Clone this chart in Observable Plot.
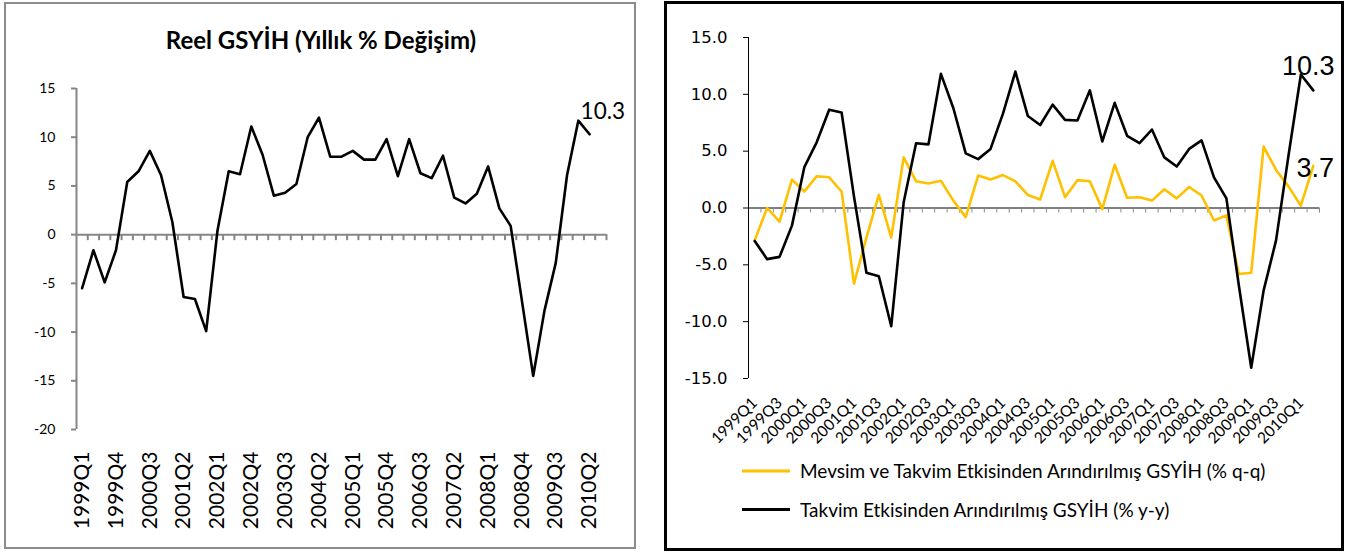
<!DOCTYPE html>
<html>
<head>
<meta charset="utf-8">
<script src="https://cdn.jsdelivr.net/npm/d3@7"></script>
<script src="https://cdn.jsdelivr.net/npm/@observablehq/plot@0.6"></script>
<style>
  html, body { margin: 0; padding: 0; background: #fff; }
  body { width: 1354px; height: 554px; position: relative; overflow: hidden; font-family: Lato, sans-serif; }
  .abs { position: absolute; }
  #p1 { left: 0; top: 0; }
  #p2 { left: 660px; top: 0; }
  .box1 { left: 4px; top: 2px; width: 628px; height: 543px; border: 2px solid #8c8c8c; pointer-events: none; z-index: 5; }
  .box2 { left: 664px; top: 1px; width: 674px; height: 544px; border: 3px solid #000; pointer-events: none; z-index: 5; }
  #overlay { left: 0; top: 0; z-index: 6; pointer-events: none; }
</style>
</head>
<body>
<div id="p1" class="abs"></div>
<div id="p2" class="abs"></div>
<div class="abs box1"></div>
<div class="abs box2"></div>
<svg id="overlay" class="abs" width="1354" height="554"></svg>
<script>
// ---------------- data ----------------
const quarters = [
  "1999Q1","1999Q2","1999Q3","1999Q4",
  "2000Q1","2000Q2","2000Q3","2000Q4",
  "2001Q1","2001Q2","2001Q3","2001Q4",
  "2002Q1","2002Q2","2002Q3","2002Q4",
  "2003Q1","2003Q2","2003Q3","2003Q4",
  "2004Q1","2004Q2","2004Q3","2004Q4",
  "2005Q1","2005Q2","2005Q3","2005Q4",
  "2006Q1","2006Q2","2006Q3","2006Q4",
  "2007Q1","2007Q2","2007Q3","2007Q4",
  "2008Q1","2008Q2","2008Q3","2008Q4",
  "2009Q1","2009Q2","2009Q3","2009Q4",
  "2010Q1","2010Q2"
];
// Left panel: Reel GSYİH (Yıllık % Değişim)
const reelGsyih = [
  -5.5, -1.6, -4.9, -1.6,
   5.4,  6.5,  8.6,  6.1,
   1.3, -6.4, -6.6, -9.9,
   0.4,  6.5,  6.2, 11.1,
   8.2,  4.0,  4.3,  5.2,
  10.0, 12.0,  8.0,  8.0,
   8.6,  7.7,  7.7,  9.8,
   6.0,  9.8,  6.3,  5.8,
   8.1,  3.8,  3.2,  4.2,
   7.0,  2.7,  0.9, -6.8,
 -14.5, -7.8, -2.9,  6.1,
  11.7, 10.3
];
// Right panel: Mevsim ve Takvim Etkisinden Arındırılmış GSYİH (% q-q)
const qq = [
  -2.85,  0.0, -1.2,  2.5,
   1.45,  2.8,  2.7,  1.45,
  -6.65, -2.6,  1.15, -2.6,
   4.45,  2.35, 2.15,  2.4,
   0.65, -0.8,  2.85,  2.5,
   2.9,   2.35, 1.15,  0.75,
   4.15,  0.95, 2.45,  2.35,
  -0.1,   3.8,  0.9,   0.95,
   0.65,  1.65, 0.85,  1.85,
   1.1,  -1.1, -0.65, -5.8,
  -5.7,   5.4,  3.35,  1.9,
   0.2,   3.7
];
// Right panel: Takvim Etkisinden Arındırılmış GSYİH (% y-y)
const yy = [
  -2.9,  -4.5,  -4.3,  -1.55,
   3.6,   5.8,   8.65,  8.4,
   1.0,  -5.7,  -6.0, -10.4,
   0.5,   5.7,   5.6,  11.8,
   8.8,   4.8,   4.3,   5.2,
   8.3,  12.0,   8.1,   7.3,
   9.1,   7.75,  7.7,  10.35,
   5.85,  9.25,  6.35,  5.7,
   6.9,   4.45,  3.65,  5.2,
   5.95,  2.7,   0.85, -6.8,
 -14.05, -7.25, -2.85,  4.6,
  11.75, 10.35
];
const leftTickLabels = ["1999Q1","1999Q4","2000Q3","2001Q2","2002Q1","2002Q4","2003Q3","2004Q2",
  "2005Q1","2005Q4","2006Q3","2007Q2","2008Q1","2008Q4","2009Q3","2010Q2"];
const rightTickLabels = ["1999Q1","1999Q3","2000Q1","2000Q3","2001Q1","2001Q3","2002Q1","2002Q3",
  "2003Q1","2003Q3","2004Q1","2004Q3","2005Q1","2005Q3","2006Q1","2006Q3","2007Q1","2007Q3",
  "2008Q1","2008Q3","2009Q1","2009Q3","2010Q1"];
const leftYTicks = [-20, -15, -10, -5, 0, 5, 10, 15];
const rightYTicks = [-15, -10, -5, 0, 5, 10, 15];
const leftTitle = "Reel GSYİH (Yıllık % Değişim)";
const legendLabels = ["Mevsim ve Takvim Etkisinden Arındırılmış GSYİH (% q-q)", "Takvim Etkisinden Arındırılmış GSYİH (% y-y)"];
const seriesColors = ["#FFC000", "#000000"];

// ---------------- helpers ----------------
const leftSlots = quarters.length + 1; // an empty slot follows the last quarter on the left axis
const rightSlots = quarters.length;
const leftData = reelGsyih.map((v, i) => ({i, q: quarters[i], v}));
const qqData = qq.map((v, i) => ({i, q: quarters[i], v}));
const yyData = yy.map((v, i) => ({i, q: quarters[i], v}));
const leftBounds = d3.range(leftSlots).map(i => ({x: i + 0.5, y: 0}));
const rightBounds = d3.range(rightSlots).map(i => ({x: i + 0.5, y: 0}));
const leftTickIdx = leftTickLabels.map(q => quarters.indexOf(q));
const rightTickIdx = rightTickLabels.map(q => quarters.indexOf(q));
const fmtInt = d => String(d);
const fmt1 = d => d.toFixed(1);

// ---------------- left chart ----------------
const left = Plot.plot({
  width: 640, height: 554,
  marginLeft: 76, marginRight: 34, marginTop: 88, marginBottom: 125,
  style: {background: "transparent", fontFamily: "Lato", color: "#000", overflow: "visible"},
  x: {type: "linear", domain: [-0.5, leftSlots - 0.5]},
  y: {domain: [-20, 15]},
  marks: [
    Plot.ruleX([-0.5], {stroke: "#868686", strokeWidth: 2}),
    Plot.axisY({ticks: leftYTicks, tickFormat: fmtInt, tickSize: 5, tickPadding: 16, stroke: "#868686", strokeWidth: 2, fill: "#000", fontSize: 14, label: null}),
    Plot.ruleY([0], {stroke: "#868686", strokeWidth: 2}),
    Plot.ruleX(leftBounds, {x: "x", y1: "y", y2: "y", insetBottom: -6, stroke: "#868686", strokeWidth: 2}),
    Plot.axisX({ticks: leftTickIdx, tickFormat: i => quarters[i], tickRotate: -90, tickSize: 0, tickPadding: 22, fill: "#000", fontSize: 21, label: null}),
    Plot.line(leftData, {x: "i", y: "v", stroke: "#000", strokeWidth: 2.6}),
    Plot.text(leftData.slice(-1), {x: "i", y: "v", text: d => d.v.toFixed(1), textAnchor: "start", lineAnchor: "bottom", dx: -9, dy: -15, fontSize: 22.5, fontFamily: "Lato", fill: "#000"})
  ]
});
document.getElementById("p1").appendChild(left);

// ---------------- right chart ----------------
const right = Plot.plot({
  width: 694, height: 554,
  marginLeft: 88, marginRight: 35, marginTop: 37, marginBottom: 176,
  style: {background: "transparent", fontFamily: "Lato", color: "#000", overflow: "visible"},
  x: {type: "linear", domain: [-0.5, rightSlots - 0.5]},
  y: {domain: [-15, 15]},
  marks: [
    Plot.ruleX([-0.5], {stroke: "#000", strokeWidth: 1}),
    Plot.axisY({ticks: rightYTicks, tickFormat: fmt1, tickSize: 5, tickPadding: 16, stroke: "#000", fill: "#000", fontSize: 16.5, fontFamily: "DejaVu Sans", label: null}),
    Plot.ruleY([0], {stroke: "#000", strokeWidth: 1}),
    Plot.ruleX(rightBounds, {x: "x", y1: "y", y2: "y", insetBottom: -5, stroke: "#8a8a8a", strokeWidth: 1}),
    Plot.axisX({ticks: rightTickIdx, tickFormat: i => quarters[i], tickRotate: -45, tickSize: 0, tickPadding: 22, fill: "#000", fontSize: 15.5, label: null}),
    Plot.line(qqData, {x: "i", y: "v", stroke: seriesColors[0], strokeWidth: 2.6}),
    Plot.line(yyData, {x: "i", y: "v", stroke: seriesColors[1], strokeWidth: 2.6}),
    Plot.text(yyData.slice(-1), {x: "i", y: "v", text: d => d.v.toFixed(1), textAnchor: "middle", lineAnchor: "bottom", dx: -5, dy: -15, fontSize: 27, fontFamily: "Liberation Sans", fill: "#000"}),
    Plot.text(qqData.slice(-1), {x: "i", y: "v", text: d => d.v.toFixed(1), textAnchor: "middle", lineAnchor: "bottom", dx: 2, dy: 11, fontSize: 27, fontFamily: "Liberation Sans", fill: "#000"})
  ]
});
document.getElementById("p2").appendChild(right);

// ---------------- title & legend ----------------
const ov = d3.select("#overlay");
ov.append("text").attr("x", 321).attr("y", 49).attr("text-anchor", "middle")
  .attr("font-family", "Lato").attr("font-weight", "bold").attr("font-size", 24).attr("fill", "#000")
  .text(leftTitle);
const legendY = [471, 509.5];
legendLabels.forEach((lab, k) => {
  ov.append("line").attr("x1", 742).attr("x2", 790).attr("y1", legendY[k]).attr("y2", legendY[k])
    .attr("stroke", seriesColors[k]).attr("stroke-width", 3);
  ov.append("text").attr("x", 800).attr("y", legendY[k] + 7).attr("font-family", "Lato").attr("font-size", 19)
    .attr("fill", "#000").text(lab);
});
</script>
</body>
</html>
